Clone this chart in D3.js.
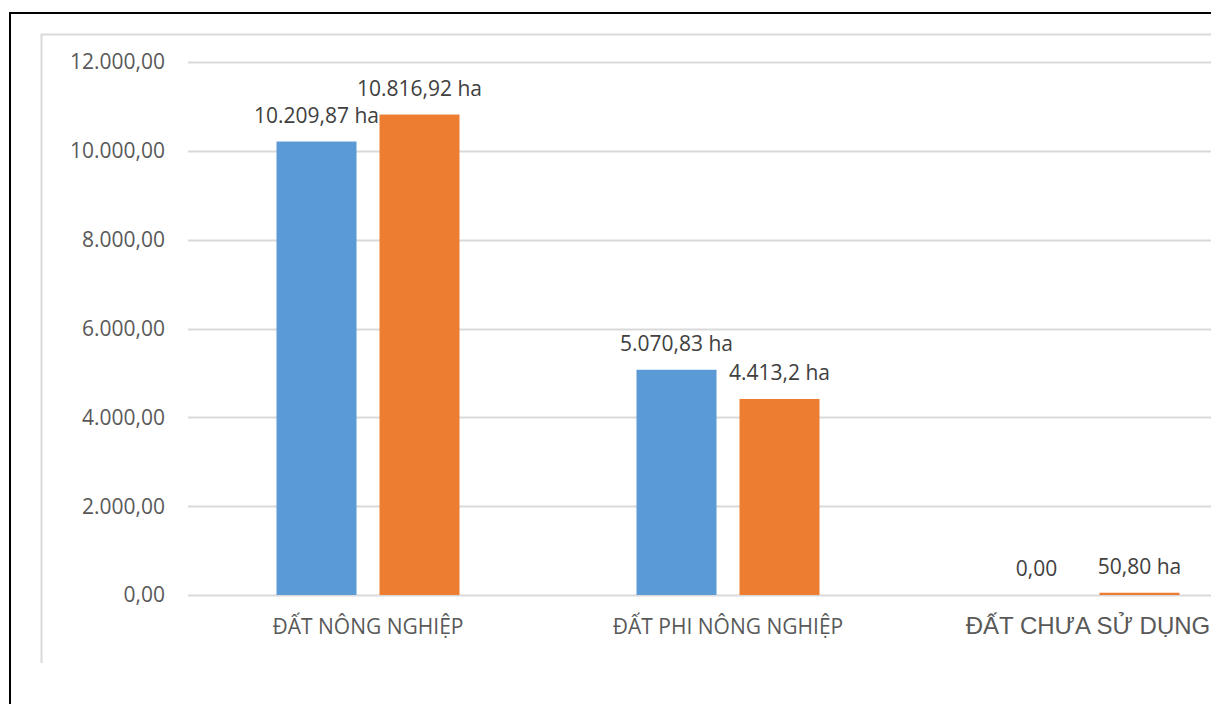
<!DOCTYPE html>
<html lang="vi">
<head>
  <meta charset="UTF-8">
  <title>Cơ cấu sử dụng đất</title>
  <script src="https://d3js.org/d3.v7.min.js"></script>
  <style>
    body { margin: 0; background: #fff; overflow: hidden; }
    svg { display: block; }
  </style>
</head>
<body>
  <svg id="chart"></svg>
  <script>
    // values
    const categories = ['ĐẤT NÔNG NGHIỆP', 'ĐẤT PHI NÔNG NGHIỆP', 'ĐẤT CHƯA SỬ DỤNG'];
    const seriesA = [10209.87, 5070.83, 0];
    const seriesB = [10816.92, 4413.2, 50.8];
    const labelsA = ['10.209,87 ha', '5.070,83 ha', '0,00'];
    const labelsB = ['10.816,92 ha', '4.413,2 ha', '50,80 ha'];
    const yTicks = [0, 2000, 4000, 6000, 8000, 10000, 12000];

    const width = 1211, height = 704;
    const svg = d3.select('#chart').attr('width', width).attr('height', height);

    const vi = d3.formatLocale({ decimal: ',', thousands: '.', grouping: [3], currency: ['', ''] });
    const fmt = vi.format(',.2f');

    // frames
    svg.append('rect')
      .attr('x', 10).attr('y', 13).attr('width', 1240).attr('height', 720)
      .attr('fill', 'none').attr('stroke', '#000').attr('stroke-width', 2);
    svg.append('path')
      .attr('d', 'M41.5,663V34.5H1240')
      .attr('fill', 'none').attr('stroke', '#d9d9d9').attr('stroke-width', 2);

    const x = d3.scaleBand().domain(categories).range([188, 1268]).padding(0);
    const y = d3.scaleLinear().domain([0, 12000]).range([595, 62]);
    const barW = 80, gap = 23;

    // grid
    svg.append('g').selectAll('line')
      .data(yTicks)
      .enter().append('line')
      .attr('x1', 188).attr('x2', width)
      .attr('y1', d => Math.round(y(d)) + 0.5)
      .attr('y2', d => Math.round(y(d)) + 0.5)
      .attr('stroke', '#d9d9d9').attr('stroke-width', 2);

    svg.append('g').selectAll('text')
      .data(yTicks)
      .enter().append('text')
      .attr('x', 165).attr('y', d => y(d))
      .attr('dy', '0.35em')
      .attr('text-anchor', 'end')
      .style('font', '21px "Open Sans", sans-serif')
      .style('fill', '#595959')
      .text(d => fmt(d));

    const series = [
      { values: seriesA, labels: labelsA, color: '#5b9bd5', off: -(gap / 2 + barW) },
      { values: seriesB, labels: labelsB, color: '#ed7d31', off: gap / 2 }
    ];

    series.forEach(s => {
      const g = svg.append('g');
      g.selectAll('rect')
        .data(categories)
        .enter().append('rect')
        .attr('x', (d, i) => x(d) + x.bandwidth() / 2 + s.off)
        .attr('y', (d, i) => y(s.values[i]))
        .attr('width', barW)
        .attr('height', (d, i) => y(0) - y(s.values[i]))
        .attr('fill', s.color);
      g.selectAll('text')
        .data(categories)
        .enter().append('text')
        .attr('x', (d, i) => x(d) + x.bandwidth() / 2 + s.off + barW / 2)
        .attr('y', (d, i) => y(s.values[i]) - 19)
        .attr('text-anchor', 'middle')
        .style('font', '21px "Open Sans", sans-serif')
        .style('fill', '#404040')
        .text((d, i) => s.labels[i]);
    });

    // category labels
    svg.append('g').selectAll('text')
      .data(categories)
      .enter().append('text')
      .attr('x', d => x(d) + x.bandwidth() / 2)
      .attr('y', 634)
      .attr('text-anchor', 'middle')
      .style('font', (d, i) => i === 2 ? '24px "Liberation Sans", Arial, sans-serif' : '21px "Open Sans", sans-serif')
      .style('fill', '#595959')
      .text(d => d);
  </script>
</body>
</html>
